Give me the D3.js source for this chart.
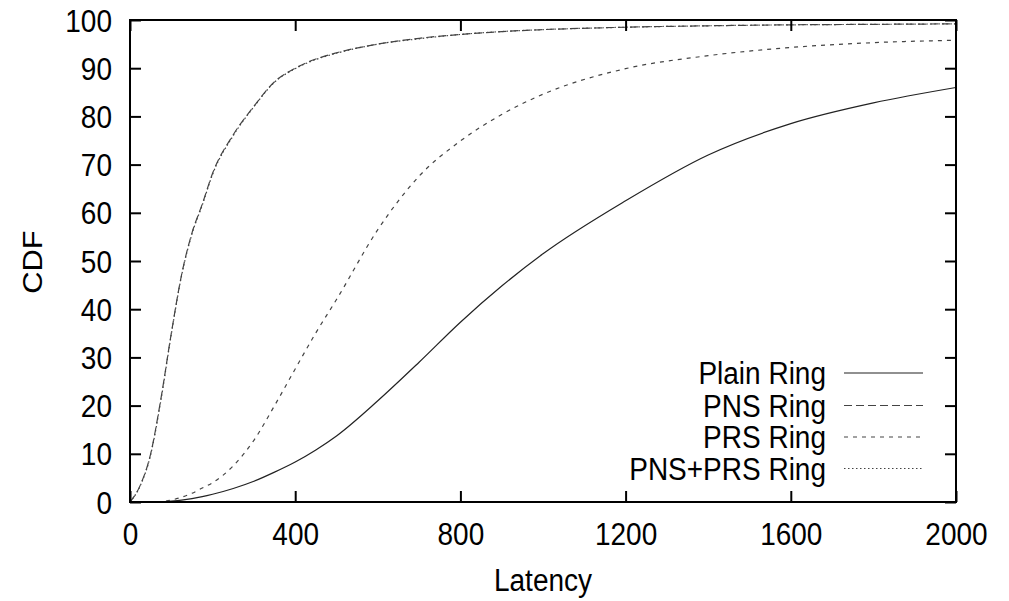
<!DOCTYPE html>
<html>
<head>
<meta charset="utf-8">
<script src="https://cdn.jsdelivr.net/npm/d3@7"></script>
<style>
  html, body { margin: 0; padding: 0; background: #fff; }
  svg { display: block; font-family: "Liberation Sans", Arial, Helvetica, sans-serif; }
</style>
</head>
<body>
<svg id="chart" width="1009" height="601"></svg>
<script>
// ---- data ----
const latency = [0,25,50,75,100,125,150,175,200,250,300,350,400,450,500,600,700,800,900,1000,1200,1400,1600,1800,2000];
const plainRing = [0,0,0,0.05,0.2,0.4,0.7,1.1,1.6,2.8,4.3,6.2,8.3,10.8,13.7,21,29,37.3,44.8,51.5,62.5,72,78.5,82.8,86];
const pnsRing   = [0,3.5,10,21.5,35,47.2,55.8,61.8,68.2,76.2,82.1,87.2,90,91.9,93.2,95,96.2,97,97.6,98,98.5,98.8,99,99.1,99.2];
const prsRing   = [0,0,0,0.1,0.4,1,1.8,2.9,4,7.5,12.8,20,27.6,35.1,42,56.5,67.6,74.9,80.4,84.6,89.9,92.6,94.3,95.3,95.8];
const pnsPrsRing= [0,3.4,9.8,21.2,34.8,47,55.6,61.6,68,76,82,87.1,89.9,91.8,93.1,95,96.1,97,97.6,98,98.5,98.8,99,99.1,99.2];
const seriesNames = ["Plain Ring","PNS Ring","PRS Ring","PNS+PRS Ring"];
const xTicks = [0,400,800,1200,1600,2000];
const yTicks = [0,10,20,30,40,50,60,70,80,90,100];
const xLabel = "Latency";
const yLabel = "CDF";

// ---- styles ----
const dashes = [null, "8,4", "4,5", "1.5,2.5"];
const colors = ["#222", "#444", "#444", "#444"];
const seriesData = [plainRing, pnsRing, prsRing, pnsPrsRing];

const svg = d3.select("#chart");
const pL = 130, pR = 956, pT = 20, pB = 502;
const x = d3.scaleLinear().domain([0,2000]).range([pL,pR]);
const y = d3.scaleLinear().domain([0,100]).range([pB,pT]);
const FS = 28, SY = 1.1;

svg.append("defs").append("clipPath").attr("id","clip")
  .append("rect").attr("x",pL).attr("y",pT).attr("width",pR-pL).attr("height",pB-pT);

// curves
const line = d3.line().curve(d3.curveMonotoneX);
seriesData.forEach((vals,i) => {
  const pts = latency.map((l,j) => [x(l), y(vals[j])]);
  svg.append("path")
    .attr("clip-path","url(#clip)")
    .attr("d", line(pts))
    .attr("fill","none")
    .attr("stroke", colors[i])
    .attr("stroke-width", 1.2)
    .attr("stroke-dasharray", dashes[i]);
});

// axes (inward ticks, mirrored)
function styleAxis(g) {
  g.select(".domain").remove();
  g.selectAll(".tick line").attr("stroke","#000").attr("stroke-width",2);
}
const gb = svg.append("g").attr("transform",`translate(0,${pB})`)
  .call(d3.axisBottom(x).tickValues(xTicks).tickSize(-11).tickFormat(d3.format("d")));
styleAxis(gb);
gb.selectAll(".tick text")
  .attr("y",null).attr("dy",null)
  .attr("transform",`translate(0,43) scale(1,${SY})`)
  .attr("font-size",FS).attr("font-family","Liberation Sans, Arial, sans-serif")
  .attr("fill","#000").attr("text-anchor","middle");

const gt = svg.append("g").attr("transform",`translate(0,${pT})`)
  .call(d3.axisTop(x).tickValues(xTicks).tickSize(-11).tickFormat(""));
styleAxis(gt);
gt.selectAll(".tick text").remove();

const gl = svg.append("g").attr("transform",`translate(${pL},0)`)
  .call(d3.axisLeft(y).tickValues(yTicks).tickSize(-11).tickFormat(d3.format("d")));
styleAxis(gl);
gl.selectAll(".tick text")
  .attr("x",null).attr("dy",null)
  .attr("transform",`translate(-18,11) scale(1,${SY})`)
  .attr("font-size",FS).attr("font-family","Liberation Sans, Arial, sans-serif")
  .attr("fill","#000").attr("text-anchor","end");

const gr = svg.append("g").attr("transform",`translate(${pR},0)`)
  .call(d3.axisRight(y).tickValues(yTicks).tickSize(-11).tickFormat(""));
styleAxis(gr);
gr.selectAll(".tick text").remove();

// frame
svg.append("rect").attr("x",pL).attr("y",pT).attr("width",pR-pL).attr("height",pB-pT)
  .attr("fill","none").attr("stroke","#000").attr("stroke-width",2);

// axis labels
svg.append("text").text(xLabel)
  .attr("transform",`translate(${(pL+pR)/2},591) scale(1,${SY})`)
  .attr("text-anchor","middle").attr("font-size",FS).attr("fill","#000");
svg.append("text").text(yLabel)
  .attr("transform",`translate(42,262) rotate(-90) scale(${SY},1)`)
  .attr("text-anchor","middle").attr("font-size",FS).attr("fill","#000");

// legend
const legBase = [384, 416.5, 448, 479.5];
seriesNames.forEach((name,i) => {
  svg.append("text").text(name)
    .attr("transform",`translate(826,${legBase[i]}) scale(1,${SY})`)
    .attr("text-anchor","end").attr("font-size",FS).attr("fill","#000");
  svg.append("line")
    .attr("x1",844).attr("x2",923)
    .attr("y1",legBase[i]-11).attr("y2",legBase[i]-11)
    .attr("stroke",colors[i]).attr("stroke-width",1.2)
    .attr("stroke-dasharray",dashes[i]);
});
</script>
</body>
</html>
